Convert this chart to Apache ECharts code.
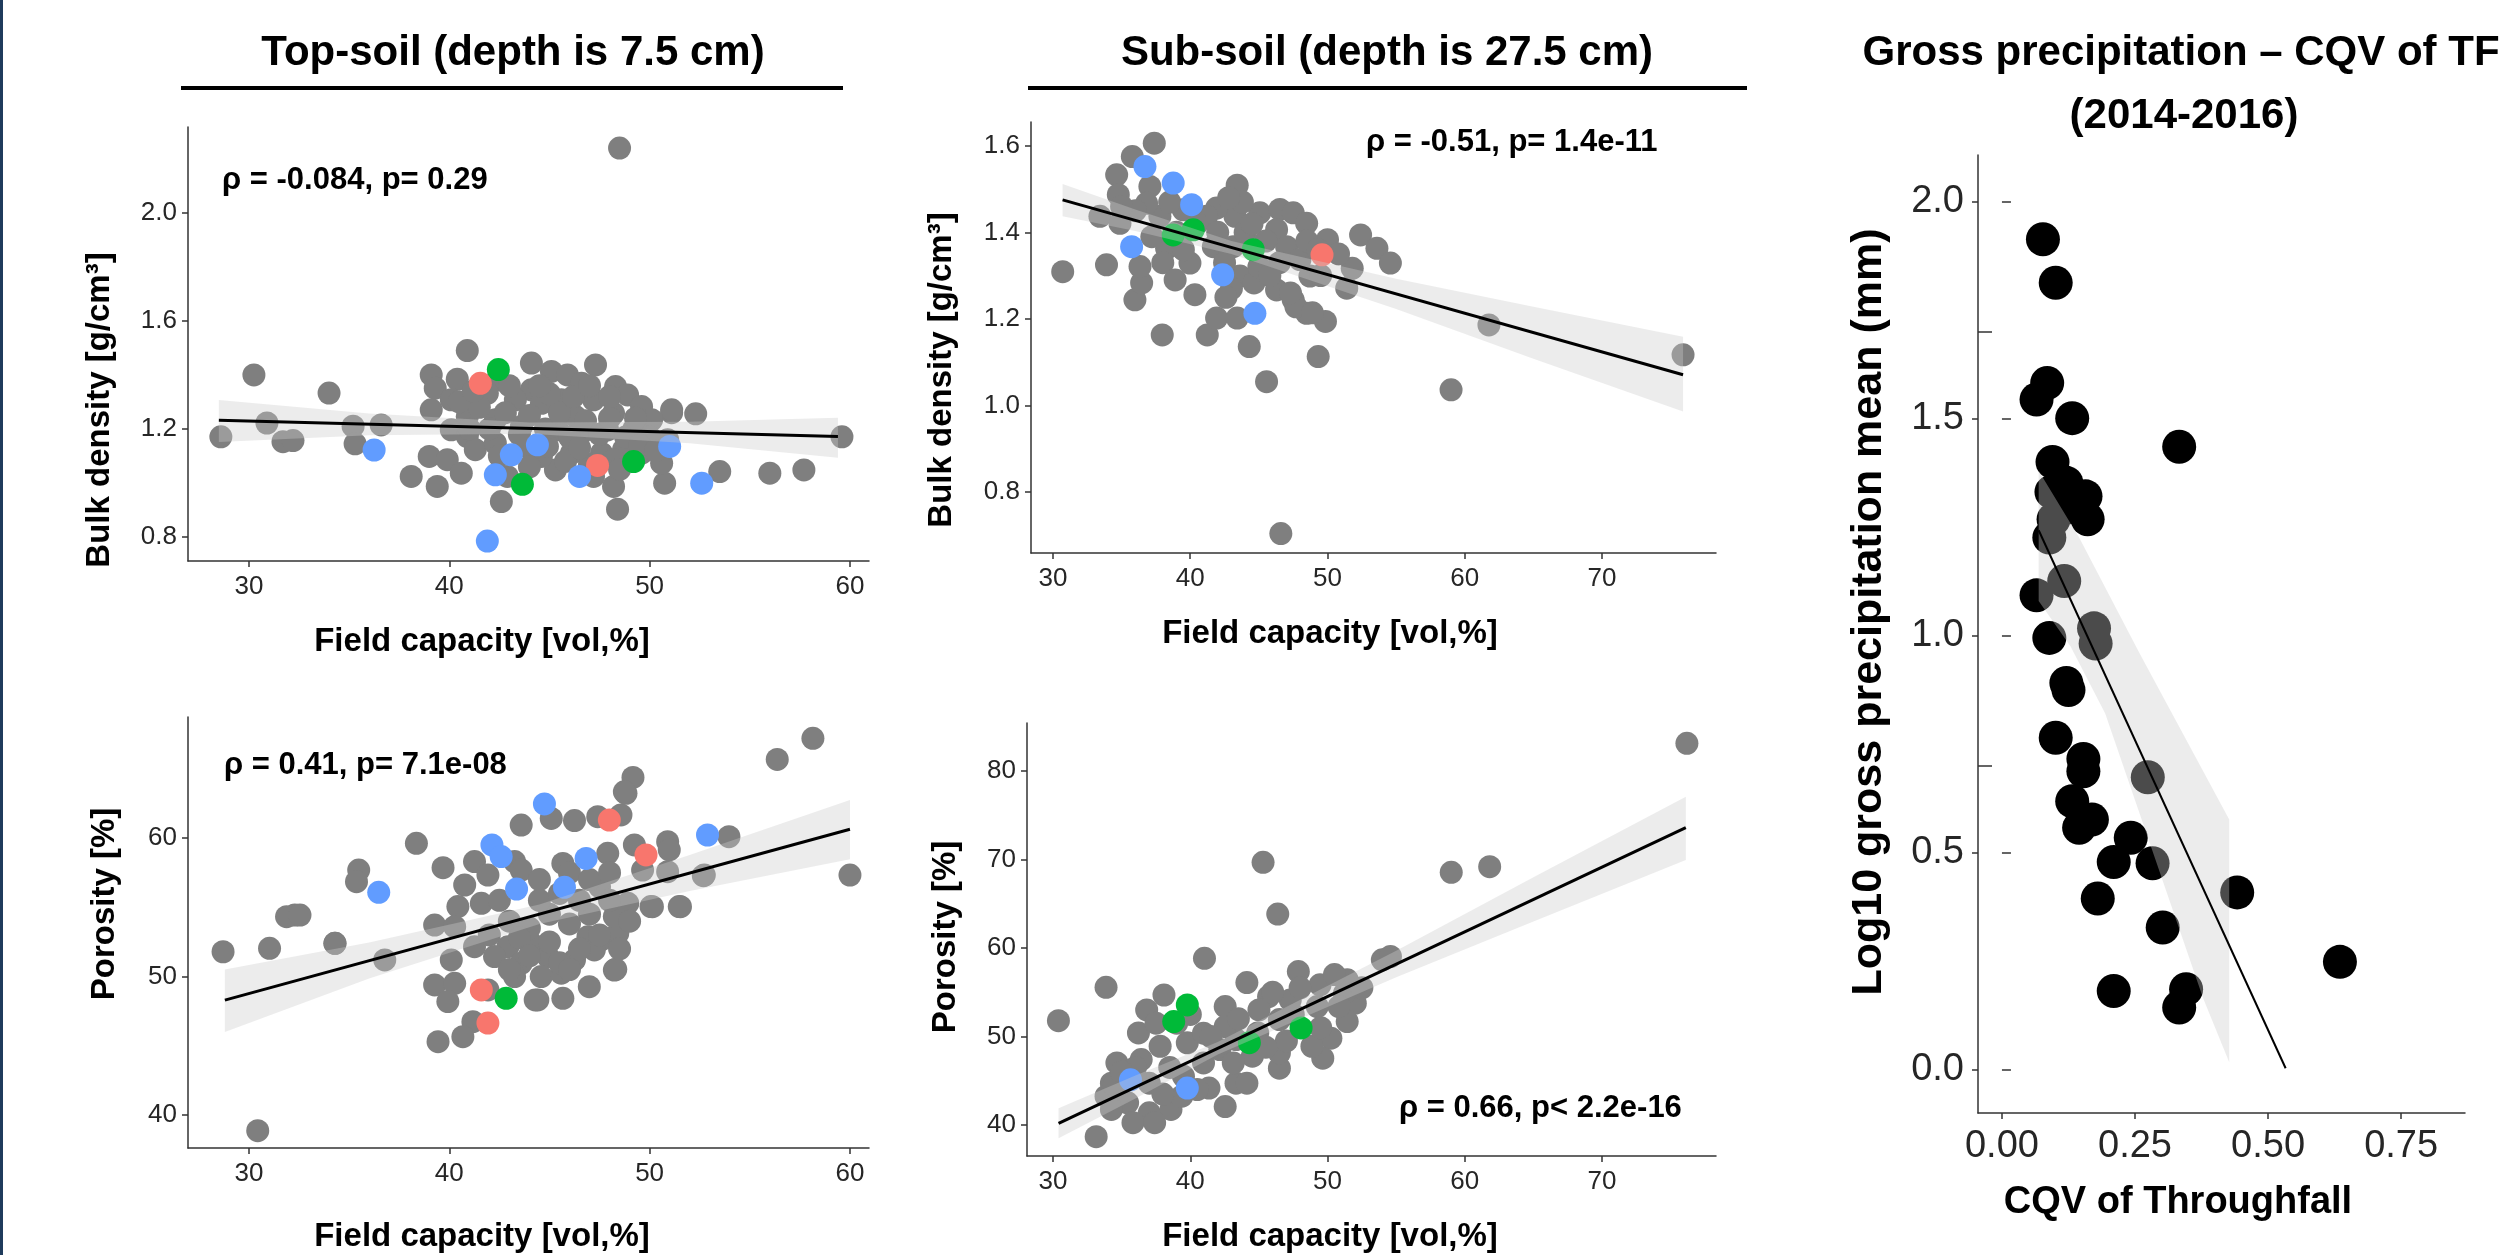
<!DOCTYPE html>
<html>
<head>
<meta charset="utf-8">
<script src="https://cdn.jsdelivr.net/npm/echarts@6/dist/echarts.min.js"></script>
<style>
  html, body { margin: 0; padding: 0; background: #fff; }
  #chart { width: 2518px; height: 1255px; }
</style>
</head>
<body>
<div id="chart"></div>
<script>
// ---- top-soil: field capacity vs bulk density
var topBulkGray = [
  [48.5,2.24],[30.25,1.40],[34.0,1.333],[28.6,1.171],[30.9,1.222],[31.7,1.153],[32.2,1.157],[35.2,1.21],
  [36.6,1.215],[35.3,1.145],[51.1,1.26],[52.3,1.256],[53.5,1.042],[56.0,1.036],[57.7,1.048],[59.6,1.171],
  [50.75,0.999],[48.4,0.903],[47.3,1.437],[40.9,1.49],[42.4,1.382],[39.1,1.40],[40.4,1.384],[44.1,1.444],
  [45.1,1.413],[45.9,1.40],[46.6,1.369],[48.3,1.357],[48.9,1.326],[44.1,1.345],[39.3,1.351],[39.1,1.271],
  [40.1,1.308],[41.9,1.332],[43.3,1.308],[44.6,1.295],[45.6,1.308],[47.2,1.308],[49.6,1.283],[51.1,1.271],
  [39.0,1.098],[38.1,1.024],[39.4,0.987],[40.1,1.197],[40.9,1.172],[39.9,1.086],[40.6,1.036],[41.3,1.123],
  [42.9,1.024],[42.6,0.931],[45.3,1.048],[44.6,1.098],[46.1,1.11],[47.2,1.024],[48.2,0.987],[50.6,1.073],
  [50.9,1.16],[49.2,1.197],[47.9,1.197],[46.6,1.185],[45.4,1.197],[43.6,1.209],[42.3,1.234],[40.9,1.246],
  [46.3,1.246],[48.2,1.258],[50.1,1.234],[44.9,1.135],[48.7,1.123],[49.6,1.11],[47.6,1.11],[43.8,1.135],
  [42.3,1.147],[48.2,1.086],[41.5,1.28],[42.0,1.20],[42.8,1.26],[43.5,1.18],[44.0,1.25],[44.8,1.20],
  [45.5,1.26],[46.0,1.17],[46.8,1.23],[47.5,1.18],[48.0,1.24],[48.8,1.17],[49.3,1.24],[50.0,1.17],
  [45.0,1.33],[46.2,1.32],[47.0,1.36],[48.0,1.32],[43.0,1.36],[44.5,1.36],[41.0,1.20],[40.5,1.30],
  [41.2,1.34],[42.5,1.10],[45.8,1.08],[47.0,1.07],[48.5,1.05],[49.5,1.14],[50.3,1.12],[44.0,1.06],[46.5,1.13]
];
var topBulkBlue = [[36.25,1.122],[42.3,1.03],[43.1,1.104],[44.4,1.141],[41.9,0.785],[46.5,1.024],[52.6,0.999],[51.0,1.135]];
var topBulkRed = [[41.55,1.369],[47.4,1.065]];
var topBulkGreen = [[42.45,1.42],[43.65,0.995],[49.2,1.079]];
var topBulkFit = [[28.5,1.232],[59.4,1.172]];
var topBulkBand = [[28.5,1.152,1.307],[36,1.177,1.257],[44,1.182,1.224],[52,1.147,1.227],[59.4,1.093,1.241]];

// ---- sub-soil: field capacity vs bulk density
var subBulkGray = [
  [37.38,1.606],[35.78,1.575],[34.64,1.533],[43.42,1.509],[34.76,1.487],[37.06,1.506],[33.42,1.437],[34.88,1.421],
  [30.71,1.309],[33.9,1.325],[35.97,1.244],[36.46,1.283],[36.34,1.321],[38.28,1.363],[39.98,1.329],[40.34,1.256],
  [37.96,1.163],[41.24,1.163],[41.92,1.202],[43.42,1.202],[44.3,1.136],[45.56,1.055],[43.62,1.299],[44.64,1.283],
  [43.26,1.437],[41.92,1.456],[41.19,1.437],[45.07,1.445],[46.53,1.453],[47.5,1.445],[48.48,1.421],[46.29,1.406],
  [47.02,1.367],[47.99,1.337],[46.29,1.267],[47.5,1.244],[48.48,1.213],[49.32,1.113],[48.72,1.299],[37.79,1.437],
  [36.82,1.467],[39.49,1.452],[41.68,1.367],[43.13,1.367],[52.41,1.394],[53.6,1.363],[54.58,1.329],[51.8,1.317],
  [51.4,1.271],[50.0,1.383],[49.85,1.194],[61.76,1.186],[59.0,1.036],[75.9,1.117],[46.6,0.704],[47.7,1.228],
  [48.9,1.214],[47.3,1.26],[39.0,1.40],[40.5,1.42],[42.0,1.40],[44.0,1.40],[45.5,1.38],[46.5,1.33],
  [45.0,1.32],[42.5,1.33],[38.5,1.47],[36.0,1.45],[35.0,1.46],[38.0,1.33],[39.5,1.36],[44.5,1.42],
  [45.8,1.30],[43.0,1.27],[42.6,1.25],[38.9,1.29],[37.2,1.39],[48.5,1.38],[49.3,1.36],[50.8,1.35],
  [49.5,1.30],[43.8,1.47],[42.8,1.48]
];
var subBulkBlue = [[36.7,1.552],[38.76,1.514],[40.1,1.464],[35.73,1.367],[42.36,1.302],[44.71,1.213]];
var subBulkRed = [[49.6,1.348]];
var subBulkGreen = [[38.76,1.394],[40.22,1.406],[44.59,1.36]];
var subBulkFit = [[30.7,1.475],[75.9,1.071]];
var subBulkBand = [[30.7,1.437,1.512],[36,1.403,1.453],[43,1.35,1.38],[55,1.223,1.293],[65,1.108,1.228],[75.9,0.986,1.159]];

// ---- top-soil: field capacity vs porosity
var topPoroGray = [
  [43.59,60.94],[45.09,61.42],[46.25,61.26],[47.41,61.54],[48.57,61.67],[48.82,63.23],[49.17,64.38],[48.74,63.34],
  [38.36,59.62],[39.69,57.86],[35.48,57.69],[35.37,56.85],[32.29,54.44],[31.88,54.32],[41.26,58.3],[43.26,58.3],
  [43.59,57.69],[45.67,58.17],[47.91,58.9],[49.24,59.5],[50.9,59.74],[50.98,59.14],[40.77,56.61],[41.93,57.33],
  [40.43,55.05],[41.6,55.29],[39.27,53.72],[40.27,53.6],[34.29,52.4],[36.78,51.2],[42.93,52.16],[44.09,52.4],
  [46.92,52.88],[47.58,52.64],[48.41,53.12],[48.24,54.33],[48.91,55.29],[50.07,55.05],[51.48,55.05],[52.73,57.33],
  [49.65,57.69],[50.9,57.57],[40.1,51.2],[41.26,52.16],[42.26,51.44],[43.59,50.96],[44.92,51.44],[46.25,51.2],
  [47.24,51.92],[43.26,50.0],[44.59,50.0],[45.59,50.24],[39.27,49.39],[40.27,49.51],[41.93,49.03],[39.93,48.19],
  [44.42,48.31],[45.67,48.43],[46.99,49.27],[48.24,50.47],[41.18,46.74],[40.68,45.66],[39.44,45.3],[28.71,51.79],
  [31.03,52.04],[30.44,38.87],[32.55,54.44],[34.3,52.4],[56.37,65.68],[58.15,67.2],[60.0,57.33],[53.96,60.1],
  [52.68,57.28],[51.54,55.04],[50.14,55.04],[48.31,50.52],[44.29,48.31],[43.0,54.0],[44.0,53.5],[45.0,54.5],
  [46.0,53.8],[47.0,54.5],[44.5,55.5],[45.5,56.0],[46.5,55.5],[47.5,56.5],[43.5,52.8],[45.0,52.5],
  [46.5,52.0],[47.5,53.0],[44.0,51.5],[45.5,51.0],[46.0,50.5],[43.0,50.5],[42.0,53.0],[48.5,52.0],
  [48.0,55.5],[49.0,54.0],[42.5,55.5],[44.5,57.0],[46.0,57.5],[47.0,57.0],[48.0,57.5]
];
var topPoroBlue = [[44.75,62.46],[42.13,59.5],[42.59,58.66],[46.83,58.53],[52.89,60.22],[43.36,56.32],[45.75,56.44],[36.48,56.08]];
var topPoroRed = [[47.99,61.3],[49.82,58.78],[41.93,46.64],[41.6,49.03]];
var topPoroGreen = [[42.84,48.43]];
var topPoroFit = [[28.8,48.3],[60.0,60.63]];
var topPoroBand = [[28.8,46.0,50.5],[36,49.85,52.45],[44.5,53.8,55.2],[52,56.17,58.77],[60.0,58.46,62.74]];

// ---- sub-soil: field capacity vs porosity
var subPoroGray = [
  [76.18,83.13],[45.3,69.68],[46.37,63.84],[59.01,68.55],[61.81,69.19],[41.03,58.83],[33.86,55.56],[30.39,51.79],
  [33.14,38.68],[38.08,54.69],[36.82,53.0],[44.12,56.1],[47.87,57.34],[49.45,55.84],[51.43,56.4],[53.99,58.66],
  [54.58,59.04],[52.02,53.76],[51.43,51.69],[50.24,49.81],[49.65,47.55],[46.49,46.42],[42.54,42.09],[43.33,44.73],
  [41.36,44.17],[34.25,44.73],[36.42,47.4],[36.22,50.4],[37.8,48.9],[39.78,49.29],[42.54,53.38],[43.33,49.66],
  [44.91,50.4],[46.49,51.91],[48.86,48.9],[46.49,48.15],[44.52,47.78],[34.65,47.02],[35.43,42.51],[37.01,41.38],
  [38.59,41.76],[35.82,40.26],[37.4,40.26],[34.65,43.26],[39.38,43.26],[40.96,47.02],[42.15,48.53],[43.13,47.02],
  [51.23,54.88],[50.83,53.38],[45.7,54.51],[47.28,54.13],[49.25,53.38],[42.54,51.13],[40.96,50.38],[37.01,44.73],
  [33.86,43.26],[34.25,41.76],[44.12,44.73],[34.44,44.5],[38.5,46.5],[39.5,45.5],[40.5,44.0],[38.0,43.5],
  [36.0,45.5],[41.5,50.0],[43.5,52.0],[45.0,53.0],[46.0,55.0],[47.5,52.5],[48.0,55.5],[49.5,51.0],
  [47.0,49.5],[45.5,48.8],[50.5,57.0],[52.5,55.5],[39.0,51.5],[40.0,52.5],[37.5,51.5],[36.0,46.5],[35.0,46.0]
];
var subPoroBlue = [[39.78,44.17],[35.64,45.11]];
var subPoroRed = [];
var subPoroGreen = [[38.79,51.69],[39.78,53.57],[48.07,50.97],[44.3,49.3]];
var subPoroFit = [[30.4,40.19],[76.1,73.6]];
var subPoroBand = [[30.4,38.5,41.9],[36,43.0,45.6],[42,47.97,49.37],[55,56.7,59.7],[65,63.0,68.0],[76.1,69.94,77.1]];

// ---- gross precipitation vs CQV of throughfall
var cqv = [0.077,0.101,0.065,0.085,0.132,0.333,0.095,0.121,0.157,0.161,0.129,0.093,0.089,0.097,0.117,0.065,0.089,0.173,0.176,
  0.121,0.125,0.101,0.153,0.153,0.274,0.132,0.169,0.145,0.242,0.210,0.283,0.180,0.442,0.302,0.635,0.210,0.346,0.333];
var logGross = [1.913,1.813,1.544,1.582,1.501,1.435,1.400,1.352,1.321,1.268,1.296,1.331,1.226,1.268,1.126,1.093,0.995,1.017,0.982,
  0.891,0.875,0.765,0.716,0.688,0.674,0.619,0.577,0.558,0.535,0.479,0.476,0.395,0.409,0.328,0.249,0.182,0.186,0.144];
var gpFit = [[0.069,1.243],[0.533,0.004]];
var gpBandUpper = [[0.069,1.38],[0.145,1.226],[0.258,0.961],[0.427,0.577]];
var gpBandLower = [[0.069,1.08],[0.129,0.975],[0.194,0.821],[0.378,0.165],[0.427,0.018]];

var FONT = "'Liberation Sans', Arial, sans-serif";
var BAND = 'rgba(204,204,204,0.37)';

function valueAxis(gi, min, max, ticks, digits, size, margin) {
  return {
    type: 'value', gridIndex: gi, min: min, max: max,
    axisLine: { show: true, onZero: false, lineStyle: { color: '#333', width: 1.5 } },
    axisTick: { show: true, length: 6, customValues: ticks, lineStyle: { color: '#333', width: 1.5 } },
    axisLabel: {
      customValues: ticks, margin: margin, color: '#262626', fontFamily: FONT, fontSize: size,
      formatter: function (v) { return v.toFixed(digits); }
    },
    splitLine: { show: false }
  };
}

function bandSeries(i, upper, lower) {
  return {
    type: 'custom', xAxisIndex: i, yAxisIndex: i, z: 3, silent: true,
    data: [upper[0]],
    renderItem: function (params, api) {
      var pts = upper.map(function (p) { return api.coord(p); })
        .concat(lower.slice().reverse().map(function (p) { return api.coord(p); }));
      return { type: 'polygon', shape: { points: pts }, style: { fill: BAND } };
    }
  };
}

function fitSeries(i, fit, width) {
  return {
    type: 'line', xAxisIndex: i, yAxisIndex: i, data: fit, symbol: 'none', z: 4, silent: true,
    lineStyle: { color: '#000', width: width }
  };
}

function soilSeries(i, gray, blue, red, green, fit, band) {
  var list = [];
  [[gray, '#7f7f7f'], [red, '#f8766d'], [green, '#00ba38'], [blue, '#619cff']].forEach(function (g) {
    list.push({
      type: 'scatter', xAxisIndex: i, yAxisIndex: i, data: g[0], symbolSize: 23, z: 2, silent: true,
      itemStyle: { color: g[1], opacity: 1 }
    });
  });
  list.push(bandSeries(i, band.map(function (d) { return [d[0], d[2]]; }), band.map(function (d) { return [d[0], d[1]]; })));
  list.push(fitSeries(i, fit, 3));
  return list;
}

function label(text, x, y, size, opts) {
  opts = opts || {};
  return {
    type: 'text', x: x, y: y, rotation: opts.rot || 0, z: 10,
    style: {
      text: text, fill: '#000', font: (opts.weight || 'bold') + ' ' + size + 'px ' + FONT,
      align: opts.align || 'center', verticalAlign: 'middle'
    }
  };
}

var V = Math.PI / 2;
var gpData = cqv.map(function (v, k) { return [v, logGross[k]]; });

var option = {
  animation: false,
  backgroundColor: '#fff',
  grid: [
    { left: 188, top: 127, width: 681, height: 434 },
    { left: 1031, top: 122, width: 685, height: 431 },
    { left: 188, top: 717, width: 681, height: 431 },
    { left: 1027, top: 723, width: 689, height: 433 },
    { left: 1978, top: 155, width: 487, height: 958 }
  ],
  xAxis: [
    valueAxis(0, 26.96, 60.95, [30, 40, 50, 60], 0, 26, 13),
    valueAxis(1, 28.4, 78.3, [30, 40, 50, 60, 70], 0, 26, 13),
    valueAxis(2, 26.96, 60.95, [30, 40, 50, 60], 0, 26, 13),
    valueAxis(3, 28.1, 78.3, [30, 40, 50, 60, 70], 0, 26, 13),
    valueAxis(4, -0.045, 0.87, [0, 0.25, 0.5, 0.75], 2, 38, 15)
  ],
  yAxis: [
    valueAxis(0, 0.711, 2.318, [0.8, 1.2, 1.6, 2.0], 1, 26, 11),
    valueAxis(1, 0.659, 1.655, [0.8, 1.0, 1.2, 1.4, 1.6], 1, 26, 11),
    valueAxis(2, 37.62, 68.74, [40, 50, 60], 0, 26, 11),
    valueAxis(3, 36.5, 85.42, [40, 50, 60, 70, 80], 0, 26, 11),
    valueAxis(4, -0.099, 2.107, [0, 0.5, 1.0, 1.5, 2.0], 1, 38, 14),
    {
      type: 'value', gridIndex: 4, position: 'left', min: -0.099, max: 2.107,
      axisLine: { show: false }, axisLabel: { show: false }, splitLine: { show: false },
      axisTick: { show: true, inside: true, length: 9, customValues: [0, 0.5, 1.0, 1.5, 2.0], lineStyle: { color: '#333', width: 1.5 } }
    },
    {
      type: 'value', gridIndex: 4, position: 'left', min: -0.099, max: 2.107,
      axisLine: { show: false }, axisLabel: { show: false }, splitLine: { show: false },
      axisTick: { show: true, inside: true, length: 14, customValues: [0.7, 1.7], lineStyle: { color: '#333', width: 1.5 } }
    }
  ],
  series: [].concat(
    soilSeries(0, topBulkGray, topBulkBlue, topBulkRed, topBulkGreen, topBulkFit, topBulkBand),
    soilSeries(1, subBulkGray, subBulkBlue, subBulkRed, subBulkGreen, subBulkFit, subBulkBand),
    soilSeries(2, topPoroGray, topPoroBlue, topPoroRed, topPoroGreen, topPoroFit, topPoroBand),
    soilSeries(3, subPoroGray, subPoroBlue, subPoroRed, subPoroGreen, subPoroFit, subPoroBand),
    [
      {
        type: 'scatter', xAxisIndex: 4, yAxisIndex: 4, data: gpData, symbolSize: 34, z: 2, silent: true,
        itemStyle: { color: '#000', opacity: 1 }
      },
      bandSeries(4, gpBandUpper, gpBandLower),
      fitSeries(4, gpFit, 2)
    ]
  ),
  graphic: [
    { type: 'rect', shape: { x: 0, y: 0, width: 3, height: 1255 }, style: { fill: '#1f3b5c' } },
    label('Top-soil (depth is 7.5 cm)', 513, 53, 42),
    { type: 'rect', shape: { x: 181, y: 86, width: 662, height: 4 }, style: { fill: '#000' } },
    label('Sub-soil (depth is 27.5 cm)', 1387, 53, 42),
    { type: 'rect', shape: { x: 1028, y: 86, width: 719, height: 4 }, style: { fill: '#000' } },
    label('Gross precipitation \u2013 CQV of TF', 2181, 53, 42),
    label('(2014-2016)', 2184, 116, 42),

    label('\u03c1 = -0.084, p= 0.29', 222, 180, 31, { align: 'left' }),
    label('\u03c1 = -0.51, p= 1.4e-11', 1366, 142, 31, { align: 'left' }),
    label('\u03c1 = 0.41, p= 7.1e-08', 224, 765, 31, { align: 'left' }),
    label('\u03c1 = 0.66, p< 2.2e-16', 1399, 1108, 31, { align: 'left' }),

    label('Field capacity [vol,%]', 482, 642, 33),
    label('Field capacity [vol,%]', 1330, 634, 33),
    label('Field capacity [vol,%]', 482, 1237, 33),
    label('Field capacity [vol,%]', 1330, 1237, 33),
    label('CQV of Throughfall', 2178, 1203, 38),

    label('Bulk density [g/cm\u00b3]', 100, 410, 33, { rot: V }),
    label('Bulk density [g/cm\u00b3]', 942, 370, 33, { rot: V }),
    label('Porosity [%]', 105, 904, 33, { rot: V }),
    label('Porosity [%]', 946, 937, 33, { rot: V }),
    label('Log10 gross precipitation mean (mm)', 1869, 612, 43, { rot: V })
  ]
};

var chart = echarts.init(document.getElementById('chart'));
chart.setOption(option);
</script>
</body>
</html>
